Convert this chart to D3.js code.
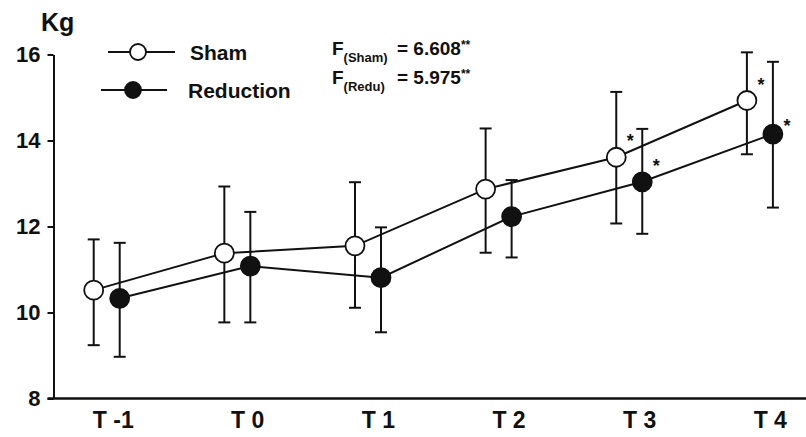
<!DOCTYPE html>
<html>
<head>
<meta charset="utf-8">
<script src="https://cdn.jsdelivr.net/npm/d3@7"></script>
<style>
  body { margin: 0; background: #fff; }
  svg text { font-family: "Liberation Sans", Arial, sans-serif; font-weight: bold; fill: #111; }
</style>
</head>
<body>
<svg id="chart" width="806" height="437"></svg>
<script>
// values (mean and error bar ends, Kg)
const times = ["T -1", "T 0", "T 1", "T 2", "T 3", "T 4"];
const shamMean  = [10.52, 11.38, 11.55, 12.87, 13.61, 14.93];
const shamUpper = [11.70, 12.93, 13.03, 14.28, 15.13, 16.05];
const shamLower = [9.24, 9.77, 10.11, 11.39, 12.07, 13.68];
const reduMean  = [10.33, 11.08, 10.81, 12.23, 13.04, 14.15];
const reduUpper = [11.62, 12.34, 11.98, 13.08, 14.27, 15.83];
const reduLower = [8.97, 9.77, 9.54, 11.28, 11.83, 12.44];
const shamSig = [0, 0, 0, 0, 1, 1];
const reduSig = [0, 0, 0, 0, 1, 1];
const yTicks = [8, 10, 12, 14, 16];

const svg = d3.select("#chart");
const ink = "#111";

const x = d3.scalePoint().domain(times).range([106.7, 759.9]);
const y = d3.scaleLinear().domain([8, 16]).range([398.5, 54.5]);
const axisX = 53.5;

const series = [
  { name: "Sham", mean: shamMean, up: shamUpper, lo: shamLower, sig: shamSig, dx: -13, fill: "#fff" },
  { name: "Reduction", mean: reduMean, up: reduUpper, lo: reduLower, sig: reduSig, dx: 13, fill: ink }
];

// y axis
const yAxis = svg.append("g")
  .attr("transform", "translate(" + axisX + ",0)")
  .call(d3.axisLeft(y).tickValues(yTicks).tickSize(6).tickSizeOuter(0).tickPadding(7));
yAxis.select(".domain").attr("stroke", ink).attr("stroke-width", 2);
yAxis.selectAll(".tick line").attr("stroke", ink).attr("stroke-width", 2);
yAxis.selectAll(".tick text").attr("font-size", 22).attr("fill", ink)
  .style("font-family", "'Liberation Sans', Arial, sans-serif").style("font-weight", "bold");

// x axis line
svg.append("line")
  .attr("x1", axisX - 6).attr("x2", 806)
  .attr("y1", y(8)).attr("y2", y(8))
  .attr("stroke", ink).attr("stroke-width", 2.4);

svg.selectAll(".xlab")
  .data(times)
  .enter().append("text")
  .attr("class", "xlab")
  .attr("x", d => x(d) + 27)
  .attr("y", 428)
  .attr("text-anchor", "end")
  .attr("font-size", 23)
  .text(d => d);

svg.append("text").attr("x", 41).attr("y", 31).attr("font-size", 25).text("Kg");

series.forEach(function(s) {
  const pts = times.map((t, i) => ({ t: t, i: i, cx: x(t) + s.dx, m: s.mean[i], up: s.up[i], lo: s.lo[i], sig: s.sig[i] }));
  const g = svg.append("g");

  g.selectAll(".eb").data(pts).enter().append("line")
    .attr("x1", d => d.cx).attr("x2", d => d.cx)
    .attr("y1", d => y(d.up)).attr("y2", d => y(d.lo))
    .attr("stroke", ink).attr("stroke-width", 2);
  g.selectAll(".capU").data(pts).enter().append("line")
    .attr("x1", d => d.cx - 6).attr("x2", d => d.cx + 6)
    .attr("y1", d => y(d.up)).attr("y2", d => y(d.up))
    .attr("stroke", ink).attr("stroke-width", 2);
  g.selectAll(".capL").data(pts).enter().append("line")
    .attr("x1", d => d.cx - 6).attr("x2", d => d.cx + 6)
    .attr("y1", d => y(d.lo)).attr("y2", d => y(d.lo))
    .attr("stroke", ink).attr("stroke-width", 2);

  s.pts = pts;
});

series.forEach(function(s) {
  svg.append("path")
    .datum(s.pts)
    .attr("d", d3.line().x(d => d.cx).y(d => y(d.m)))
    .attr("fill", "none").attr("stroke", ink).attr("stroke-width", 2);
});

series.forEach(function(s) {
  svg.selectAll(null).data(s.pts).enter().append("circle")
    .attr("cx", d => d.cx).attr("cy", d => y(d.m))
    .attr("r", 9.5)
    .attr("fill", s.fill).attr("stroke", ink).attr("stroke-width", 1.8);

  svg.selectAll(null).data(s.pts.filter(d => d.sig)).enter().append("text")
    .attr("x", d => d.cx + 14)
    .attr("y", d => y(d.m) - (d.i === 5 && s.name === "Reduction" ? 2 : 10))
    .attr("text-anchor", "middle")
    .attr("font-size", 18)
    .text("*");
});

// legend
const legend = svg.append("g");
[{ s: series[0], x1: 108, x2: 175, cx: 138, ly: 52, tx: 190 },
 { s: series[1], x1: 101, x2: 167, cx: 133, ly: 90, tx: 188 }].forEach(function(l) {
  legend.append("line").attr("x1", l.x1).attr("x2", l.x2).attr("y1", l.ly).attr("y2", l.ly)
    .attr("stroke", ink).attr("stroke-width", 2);
  legend.append("circle").attr("cx", l.cx).attr("cy", l.ly).attr("r", 8)
    .attr("fill", l.s.fill).attr("stroke", ink).attr("stroke-width", 1.8);
  legend.append("text").attr("x", l.tx).attr("y", l.ly + 8).attr("font-size", 21).text(l.s.name);
});

// F statistics
const stats = [["(Sham)", "6.608"], ["(Redu)", "5.975"]];
stats.forEach(function(st, k) {
  const base = 55 + k * 29;
  const t = svg.append("text").attr("x", 332).attr("y", base).attr("font-size", 19);
  t.append("tspan").text("F");
  t.append("tspan").attr("font-size", 13).attr("dy", 7).text(st[0]);
  t.append("tspan").attr("x", 397).attr("dy", -7).text("= " + st[1]);
  t.append("tspan").attr("font-size", 12).attr("dy", -6).text("**");
});
</script>
</body>
</html>
